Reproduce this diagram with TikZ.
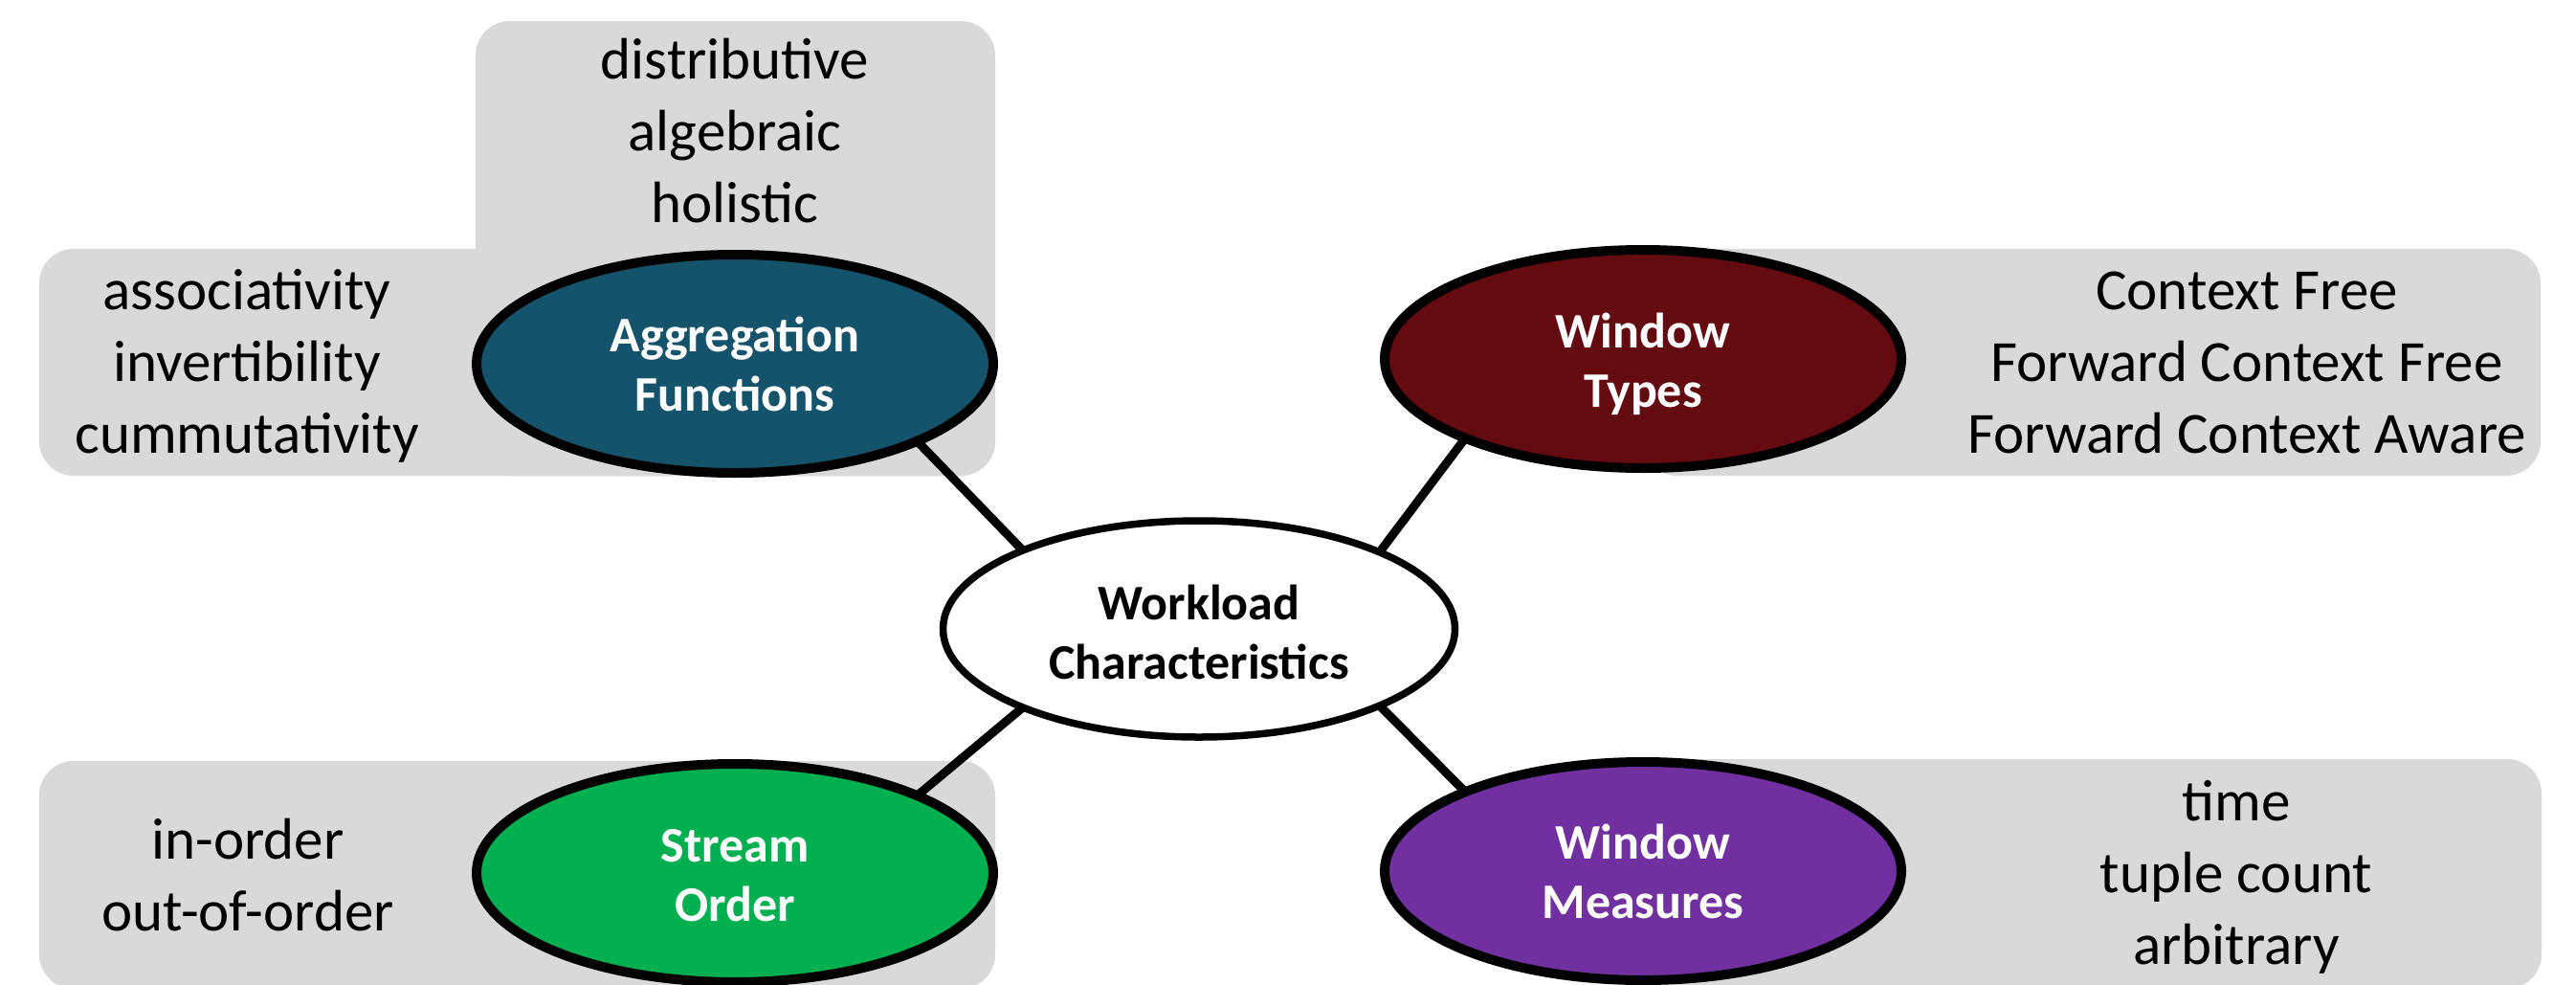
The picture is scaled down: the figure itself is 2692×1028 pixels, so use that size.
\documentclass[tikz,border=0pt]{standalone}
\usepackage{fontspec}
\setmainfont{Carlito}
\usetikzlibrary{shapes.geometric}

\definecolor{boxgray}{HTML}{D9D9D9}
\definecolor{aggblue}{HTML}{15536B}
\definecolor{typered}{HTML}{640A11}
\definecolor{ordergreen}{HTML}{00B050}
\definecolor{measurepurple}{HTML}{7030A0}

\begin{document}
\begin{tikzpicture}[x=1pt,y=-1pt,
  panel/.style={fill=boxgray, rounded corners=36pt},
  topic/.style={ellipse, draw=black, line width=10pt, minimum width=540pt,
    minimum height=228pt, inner sep=0pt, outer sep=0pt},
  hub/.style={ellipse, draw=black, line width=7.5pt, fill=white,
    minimum width=535pt, minimum height=226pt, inner sep=0pt, outer sep=0pt},
  topiclabel/.style={text=white, font=\bfseries\fontsize{52}{62}\selectfont,
    text width=500pt, align=flush center, anchor=base, inner sep=0pt},
  hublabel/.style={topiclabel, text=black},
  items/.style={font=\fontsize{61}{75}\selectfont, text width=800pt,
    align=flush center, anchor=base, inner sep=0pt},
  link/.style={line width=9pt}
]
\useasboundingbox (0,0) rectangle (2692,1028);
\clip (0,0) rectangle (2692,1028);

% grey panels holding the property lists
\fill[panel] (497,22) rectangle (1040,497);
\fill[panel] (41,260) rectangle (1040,497);
\fill[panel] (1717,260) rectangle (2655,497);
\fill[panel] (41,795) rectangle (1040,1033);
\fill[panel] (1717,793) rectangle (2656,1033);

% the four characteristics and the hub
\node[topic, fill=aggblue]       (agg)   at (768,380)  {};
\node[topic, fill=typered]       (types) at (1717,375) {};
\node[topic, fill=ordergreen]    (order) at (768,912)  {};
\node[topic, fill=measurepurple] (meas)  at (1717,910) {};
\node[hub] (hub) at (1253,657) {};

% spokes
\draw[link] (hub.156.7) -- (agg.-23.3);
\draw[link] (hub.23.3) -- (types.-156.7);
\draw[link] (hub.-156.2) -- (order.23.8);
\draw[link] (hub.-23) -- (meas.156);

% ellipse captions
\node[topiclabel] (agglbl)   at (768,367)  {Aggregation\\Functions};
\node[topiclabel] (typeslbl) at (1717,363) {Window\\Types};
\node[topiclabel] (orderlbl) at (768,900)  {Stream\\Order};
\node[topiclabel] (measlbl)  at (1717,897) {Window\\Measures};
\node[hublabel]   (hublbl)   at (1253,647) {Workload\\Characteristics};

% property lists
\node[items] (funcclass) at (768,82)   {distributive\\algebraic\\holistic};
\node[items] (funcprops) at (258,323)  {associativity\\invertibility\\cummutativity};
\node[items] (typelist)  at (2348,323) {Context Free\\Forward Context Free\\Forward Context Aware};
\node[items] (orderlist) at (259,897)  {in-order\\out-of-order};
\node[items] (measlist)  at (2337,857) {time\\tuple count\\arbitrary};
\end{tikzpicture}
\end{document}
